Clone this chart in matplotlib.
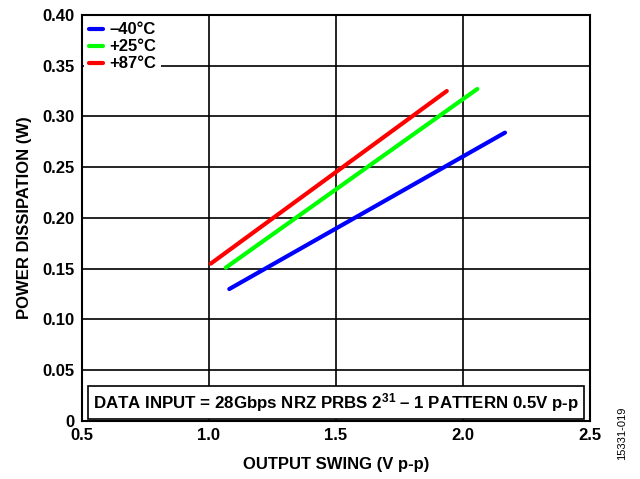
import matplotlib
matplotlib.use("Agg")
import matplotlib.pyplot as plt

plt.rcParams['font.family'] = ['Liberation Sans', 'DejaVu Sans']
plt.rcParams['font.weight'] = 'bold'
plt.rcParams['mathtext.fontset'] = 'custom'
plt.rcParams['mathtext.rm'] = 'Liberation Sans:bold'
plt.rcParams['mathtext.bf'] = 'Liberation Sans:bold'
plt.rcParams['mathtext.default'] = 'rm'

# output swing (V p-p) vs power dissipation (W), end points of each line
swing_m40 = [1.08, 2.165]
power_m40 = [0.130, 0.284]
swing_p25 = [1.066, 2.056]
power_p25 = [0.151, 0.327]
swing_p87 = [1.007, 1.936]
power_p87 = [0.155, 0.325]

labels = ['\u201340°C', '+25°C', '+87°C']
colors = ['#0000ff', '#00ff00', '#ff0000']

x_ticks = [0.5, 1.0, 1.5, 2.0, 2.5]
y_ticks = [0, 0.05, 0.10, 0.15, 0.20, 0.25, 0.30, 0.35, 0.40]
y_ticklabels = ['0', '0.05', '0.10', '0.15', '0.20', '0.25', '0.30', '0.35', '0.40']

fig = plt.figure(figsize=(6.4, 4.79), dpi=100)
ax = fig.add_axes([0.128, 0.121, 0.794, 0.848])

ax.plot(swing_m40, power_m40, color=colors[0], lw=3, label=labels[0], solid_capstyle='round')
ax.plot(swing_p25, power_p25, color=colors[1], lw=3, label=labels[1], solid_capstyle='round')
ax.plot(swing_p87, power_p87, color=colors[2], lw=3, label=labels[2], solid_capstyle='round')

ax.set_xlim(0.5, 2.5)
ax.set_ylim(0, 0.40)
ax.set_xticks(x_ticks)
ax.set_yticks(y_ticks)
ax.set_yticklabels(y_ticklabels)
ax.tick_params(length=0, labelsize=12, pad=5)
for lab in ax.get_xticklabels() + ax.get_yticklabels():
    lab.set_fontweight('bold')
ax.grid(True, color='black', lw=1.2)
ax.set_axisbelow(True)
for s in ax.spines.values():
    s.set_linewidth(1.5)

ax.set_xlabel('OUTPUT SWING (V p-p)', fontsize=12, fontweight='bold', labelpad=10)
ax.set_ylabel('POWER DISSIPATION (W)', fontsize=12, fontweight='bold', labelpad=8)

leg = ax.legend(loc='upper left', fontsize=12, frameon=True, fancybox=False,
                handlelength=0.8, handletextpad=0.4, labelspacing=0.12,
                borderaxespad=0.15, borderpad=0.3, facecolor='white', edgecolor='none',
                framealpha=1)
for t in leg.get_texts():
    t.set_fontweight('bold')
for h in leg.get_lines():
    h.set_linewidth(3)

ax.text(0.5, 0.045, 'DATA INPUT = 28Gbps NRZ PRBS 2$^{31}$ \u2013 1 PATTERN 0.5V p-p',
        transform=ax.transAxes, ha='center', va='center', fontsize=12.2, fontweight='bold',
        bbox=dict(boxstyle='square,pad=0.3', facecolor='white', edgecolor='black', lw=1.2))

fig.text(0.972, 0.04, '15331-019', rotation=90, fontsize=8, fontweight='normal',
         ha='center', va='bottom')

fig.savefig('out.png', dpi=100)
